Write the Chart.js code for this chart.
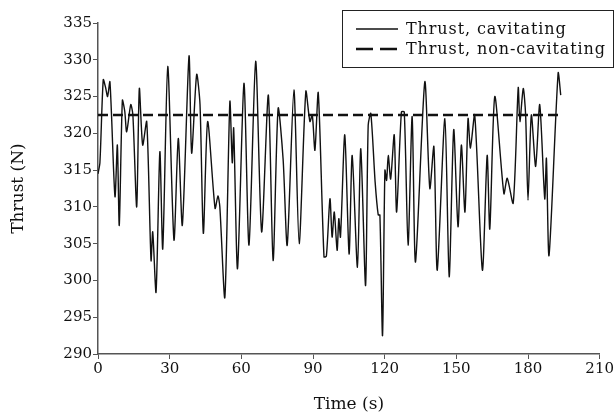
<!DOCTYPE html>
<html>
<head>
<meta charset="utf-8">
<script src="https://cdn.jsdelivr.net/npm/chart.js@4/dist/chart.umd.min.js"></script>
<style>
  html, body { margin: 0; padding: 0; background: #fff; }
  #wrap { width: 615px; height: 420px; position: relative; }
</style>
</head>
<body>
<div id="wrap"><canvas id="myChart" width="615" height="420"></canvas></div>
<script>
// time (s) and thrust (N), cavitating run
const timeValues = [
  0, 0.8, 2.2, 3.2, 4.0, 5.0, 7.1, 8.1, 8.9, 10.2, 11.2, 12.0, 13.7, 14.6, 16.2, 17.3, 18.7, 20.4,
  22.2, 22.9, 24.3, 25.9, 27.1, 29.2, 31.8, 33.6, 35.3, 38.1, 39.2, 41.3, 42.7, 44.1, 45.9, 49.0,
  50.2, 51.0, 53.1, 55.2, 56.2, 56.8, 58.4, 61.1, 63.2, 66.0, 68.5, 71.3, 73.3, 75.4, 77.5, 79.2,
  82.0, 84.2, 87.0, 88.7, 89.7, 90.8, 92.2, 94.6, 95.6, 97.1, 98.0, 98.9, 100.1, 100.8, 101.5, 103.3,
  105.1, 106.4, 108.6, 110.0, 112.0, 113.1, 114.2, 116.0, 117.3, 118.0, 119.1, 120.1, 120.8, 121.5,
  122.5, 124.0, 125.0, 127.0, 128.2, 129.8, 131.5, 132.9, 136.8, 138.9, 140.6, 142.0, 145.2, 147.0,
  148.9, 150.7, 152.1, 153.6, 154.9, 155.9, 157.7, 160.9, 162.9, 164.0, 166.1, 169.9, 171.3, 173.8,
  175.9, 176.6, 178.0, 179.0, 180.0, 181.4, 183.2, 184.9, 187.0, 187.7, 188.8, 192.6, 193.7
];
const thrustCavitating = [
  314.5, 316, 327.3, 326.2, 325, 327.0, 311.4, 318.4, 307.5, 324.5, 323, 320.2, 323.9, 322.5, 310, 326.1, 318.4, 321.6,
  302.7, 306.6, 298.4, 317.5, 304.3, 329.1, 305.5, 319.3, 307.5, 330.5, 317.3, 328, 323.9, 306.4, 321.6, 309.8,
  311.5, 310, 297.7, 324.3, 316, 320.7, 301.6, 326.8, 304.8, 329.8, 306.6, 325.2, 302.7, 323.4, 316.4, 304.8,
  325.9, 305, 325.7, 321.6, 322.5, 317.7, 325.5, 303.2, 303.3, 311.1, 305.9, 309.3, 304.1, 308.4, 305.9, 319.8,
  303.6, 317, 301.8, 317.9, 299.3, 321.1, 322.7, 313.4, 308.9, 308.9, 292.5, 315, 313.6, 317,
  313.8, 319.8, 309.3, 322.9, 322.9, 304.8, 322.3, 302.5, 327, 312.5, 318.2, 301.4, 322, 300.5,
  320.5, 307.3, 318.4, 309.3, 322, 318, 322.5, 301.4, 317, 307, 325, 311.8, 313.9, 310.5,
  326.2, 321.6, 326.1, 322.5, 310.9, 322.5, 315.5, 323.9, 311.1, 316.6, 303.4, 328.2, 325.2
];
// non-cavitating thrust is a constant level
const nonCavTime = [0, 193.7];
const nonCavThrust = [322.5, 322.5];

const seriesLabels = ["Thrust, cavitating", "Thrust, non-cavitating"];
const xTicks = [0, 30, 60, 90, 120, 150, 180, 210];
const yTicks = [290, 295, 300, 305, 310, 315, 320, 325, 330, 335];

const serif = "'DejaVu Serif', 'Liberation Serif', serif";

const boxLegend = {
  id: "boxLegend",
  afterDraw(chart) {
    const ctx = chart.ctx;
    ctx.save();
    ctx.strokeStyle = "#222";
    ctx.lineWidth = 1;
    ctx.strokeRect(342.5, 10.5, 271, 57);
    ctx.font = "16px " + serif;
    ctx.letterSpacing = "0.9px";
    ctx.fillStyle = "#111";
    ctx.textBaseline = "middle";
    const rows = [29, 49];
    chart.data.datasets.forEach((ds, i) => {
      ctx.beginPath();
      ctx.strokeStyle = "#111";
      ctx.lineWidth = ds.borderWidth;
      ctx.setLineDash(i === 0 ? [] : [17, 7]);
      ctx.moveTo(356, rows[i]);
      ctx.lineTo(398, rows[i]);
      ctx.stroke();
      ctx.setLineDash([]);
      ctx.fillText(ds.label, 406, rows[i] + 1);
    });
    ctx.restore();
  },
};

const myChart = document.querySelector("#myChart").getContext("2d");

let lineChart = new Chart(myChart, {
  type: "line",
  data: {
    datasets: [
      {
        label: seriesLabels[0],
        data: timeValues.map((t, i) => ({ x: t, y: thrustCavitating[i] })),
        borderColor: "#111",
        borderWidth: 1.4,
        pointRadius: 0,
        tension: 0.25,
      },
      {
        label: seriesLabels[1],
        data: nonCavTime.map((t, i) => ({ x: t, y: nonCavThrust[i] })),
        borderColor: "#111",
        borderWidth: 2.4,
        borderDash: [10, 5],
        pointRadius: 0,
      },
    ],
  },
  options: {
    responsive: false,
    animation: false,
    layout: { padding: { left: 8, right: 15, top: 23, bottom: 5 } },
    plugins: { legend: { display: false }, tooltip: { enabled: false } },
    scales: {
      x: {
        type: "linear",
        min: 0,
        max: 210,
        afterBuildTicks: (scale) => { scale.ticks = xTicks.map((v) => ({ value: v })); },
        afterFit: (scale) => { scale.height = 61; },
        border: { color: "#555", width: 1.5 },
        grid: { drawOnChartArea: false, drawTicks: true, tickLength: 5, color: "#555" },
        ticks: { color: "#111", font: { family: serif, size: 15 }, padding: 1, maxRotation: 0 },
        title: { display: true, text: "Time (s)", color: "#111", font: { family: serif, size: 17 }, padding: 0 },
      },
      y: {
        min: 290,
        max: 335,
        afterBuildTicks: (scale) => { scale.ticks = yTicks.map((v) => ({ value: v })); },
        afterFit: (scale) => { scale.width = 90; },
        border: { color: "#555", width: 1.5 },
        grid: { drawOnChartArea: false, drawTicks: true, tickLength: 5, color: "#555" },
        ticks: { color: "#111", font: { family: serif, size: 15 }, padding: 1 },
        title: { display: true, text: "Thrust (N)", color: "#111", font: { family: serif, size: 17 }, padding: 0 },
      },
    },
  },
  plugins: [boxLegend],
});
</script>
</body>
</html>
